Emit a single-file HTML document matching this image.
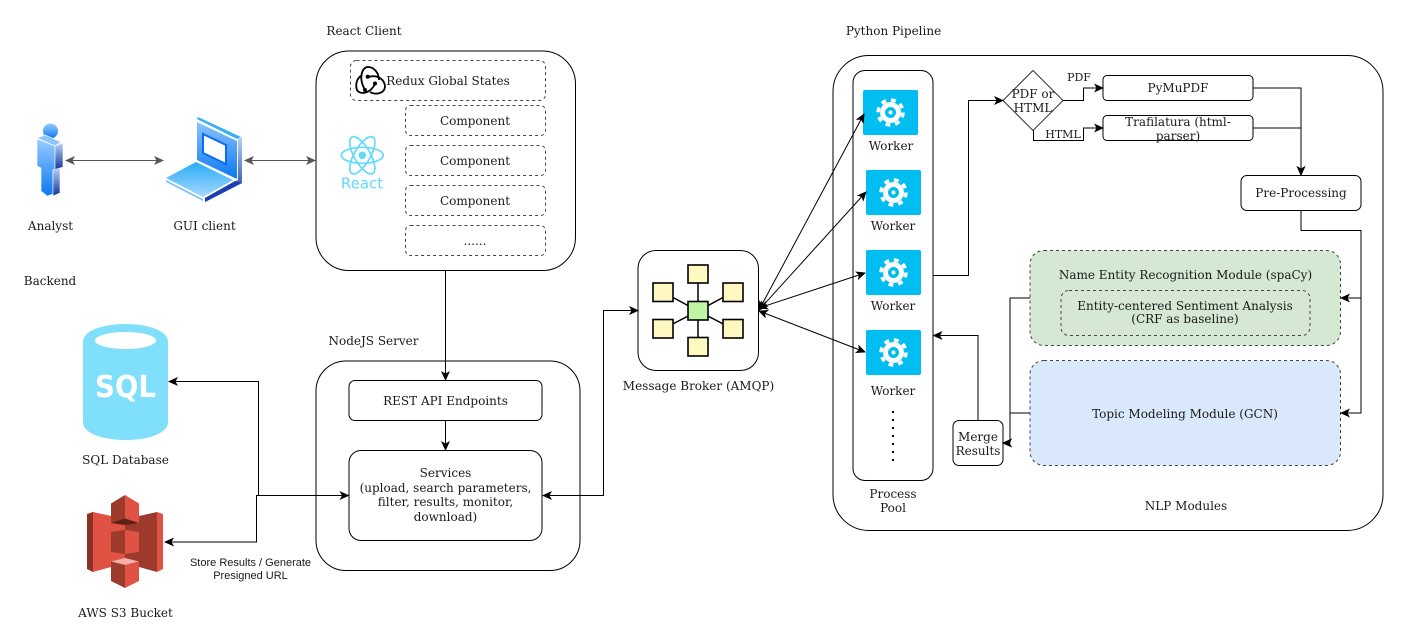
<!DOCTYPE html>
<html><head><meta charset="utf-8">
<style>
html,body{margin:0;padding:0;background:#fff;width:1404px;height:643px;overflow:hidden}
svg{display:block}
text{font-family:"DejaVu Serif",serif;font-size:12px;fill:#1a1a1a;text-anchor:middle}
.b{fill:#fff;stroke:#000;stroke-width:1}
.d{fill:#fff;stroke:#444;stroke-width:1;stroke-dasharray:3 3}
.l{fill:none;stroke:#000;stroke-width:1}
.s{stroke:#000;stroke-width:1.6;fill:#fff8c0}
</style></head><body>
<svg width="1404" height="643" viewBox="0 0 1404 643" xmlns="http://www.w3.org/2000/svg">
<defs>
<marker id="a" markerWidth="11" markerHeight="10" refX="9" refY="4.500" orient="auto-start-reverse" markerUnits="userSpaceOnUse"><path d="M0 0L10 4.500L0 9L2.500 4.500Z" fill="#000"/></marker>
<marker id="g" markerWidth="11" markerHeight="10" refX="9" refY="4.500" orient="auto-start-reverse" markerUnits="userSpaceOnUse"><path d="M0 0L10 4.500L0 9L2.500 4.500Z" fill="#555"/></marker>
<linearGradient id="bl" x1="0" y1="0" x2="0" y2="1"><stop offset="0" stop-color="#99ccff"/><stop offset="1" stop-color="#0a78f0"/></linearGradient>
<linearGradient id="dk" x1="0" y1="0" x2="0" y2="1"><stop offset="0" stop-color="#b5d4f5"/><stop offset="1" stop-color="#12319e"/></linearGradient>
<linearGradient id="key" x1="0" y1="0" x2="0" y2="1"><stop offset="0" stop-color="#29abf5"/><stop offset="1" stop-color="#a5d8ff"/></linearGradient>
<linearGradient id="scr" x1="0" y1="0" x2="0" y2="1"><stop offset="0" stop-color="#8cc4ff"/><stop offset="1" stop-color="#0a78f0"/></linearGradient>
<g id="w">
<rect x="0" y="0" width="55" height="45" rx="2" fill="#00bef2"/>
<circle cx="27.500" cy="22.500" r="10.500" fill="#fff"/>
<circle cx="27.500" cy="22.500" r="12.500" fill="none" stroke="#fff" stroke-width="3.500" stroke-dasharray="4.900 4.920"/>
<circle cx="27.500" cy="22.500" r="5.500" fill="#00bef2"/>
<circle cx="27.500" cy="22.500" r="2" fill="#fff"/>
</g>
</defs>

<!-- containers -->
<rect class="b" x="316" y="51" width="259.500" height="219.500" rx="33"/>
<rect class="b" x="316" y="361" width="264" height="209.500" rx="30"/>
<rect class="b" x="638" y="250.500" width="120.500" height="120" rx="18"/>
<rect class="b" x="833" y="55.500" width="550" height="475" rx="36"/>
<rect class="b" x="853" y="70.500" width="80" height="410" rx="12"/>

<!-- React contents -->
<rect class="d" x="350.500" y="60.500" width="195" height="40" rx="6"/>
<rect class="d" x="405.500" y="105.500" width="140" height="30" rx="5"/>
<rect class="d" x="405.500" y="145.500" width="140" height="30" rx="5"/>
<rect class="d" x="405.500" y="185.500" width="140" height="30" rx="5"/>
<rect class="d" x="405.500" y="225.500" width="140" height="30" rx="5"/>
<text x="448" y="85">Redux Global States</text>
<text x="475" y="125">Component</text>
<text x="475" y="165">Component</text>
<text x="475" y="205">Component</text>
<text x="475" y="245">......</text>
<!-- redux logo -->
<g fill="none" stroke="#000" stroke-width="1.800">
<path d="M365 90C358 78 362 67 368 67C374 67 379 73 379 80"/>
<path d="M362 75C357 78 355 84 357 90C360 95 370 94 375 84"/>
<path d="M368 77C378 74 385 80 385 87C384 94 375 95 370 92"/>
</g>
<circle cx="367.700" cy="76.700" r="2" fill="#000"/><circle cx="375" cy="83.500" r="2" fill="#000"/><circle cx="365" cy="90" r="2" fill="#000"/>
<!-- react logo -->
<g fill="none" stroke="#61dafb" stroke-width="1.700">
<ellipse cx="362.300" cy="155.300" rx="21" ry="8"/>
<ellipse cx="362.300" cy="155.300" rx="21" ry="8" transform="rotate(60 362.300 155.300)"/>
<ellipse cx="362.300" cy="155.300" rx="21" ry="8" transform="rotate(120 362.300 155.300)"/>
</g>
<circle cx="362.300" cy="155.300" r="3.800" fill="#61dafb"/>
<text x="362" y="188.500" style="font-family:'DejaVu Sans',sans-serif;font-size:15px;fill:#61dafb">React</text>

<!-- Node contents -->
<rect class="b" x="349" y="380.500" width="193" height="40" rx="6"/>
<rect class="b" x="349" y="450.500" width="193" height="90" rx="12"/>
<text x="445.500" y="405">REST API Endpoints</text>
<text x="445.500" y="477">Services</text>
<text x="445.500" y="492">(upload, search parameters,</text>
<text x="445.500" y="506">filter, results, monitor,</text>
<text x="445.500" y="521">download)</text>

<!-- Broker icon -->
<g stroke="#000" stroke-width="1.500">
<path d="M698 275V345M663 292L698 311L733 292M663 329L698 311L733 329" fill="none"/>
<rect class="s" x="688" y="265" width="20" height="18"/>
<rect class="s" x="653" y="283" width="20" height="18.500"/>
<rect class="s" x="723" y="283" width="20" height="18.500"/>
<rect class="s" x="653" y="319.500" width="20" height="18.500"/>
<rect class="s" x="723" y="319.500" width="20" height="18.500"/>
<rect class="s" x="688" y="337.500" width="20" height="18.500"/>
<rect class="s" x="688" y="301.500" width="20" height="18.500" style="fill:#c0f5a6"/>
</g>

<!-- workers -->
<use href="#w" x="863" y="90"/>
<use href="#w" x="866" y="170"/>
<use href="#w" x="866" y="250"/>
<use href="#w" x="866" y="330"/>
<text x="891" y="150">Worker</text>
<text x="893" y="230">Worker</text>
<text x="893" y="310">Worker</text>
<text x="893" y="395">Worker</text>
<line x1="893" y1="411" x2="893" y2="461" stroke="#000" stroke-width="2" stroke-dasharray="2 6"/>
<text x="893" y="498">Process</text>
<text x="893" y="512">Pool</text>

<!-- pipeline shapes -->
<path d="M1033 70.500L1063 100.500L1033 130.500L1003 100.500Z" fill="#fff" stroke="#333"/>
<text x="1033" y="98">PDF or</text>
<text x="1033" y="112">HTML</text>
<rect class="b" x="1103" y="75.500" width="150" height="25" rx="4"/>
<rect class="b" x="1103" y="115.500" width="150" height="25" rx="4"/>
<rect class="b" x="1241" y="175.500" width="120" height="35" rx="6"/>
<text x="1178" y="92">PyMuPDF</text>
<text x="1178" y="126">Trafilatura (html-</text>
<text x="1178" y="140">parser)</text>
<text x="1301" y="197">Pre-Processing</text>
<text x="1079" y="81" style="font-size:11px">PDF</text>
<text x="1063" y="138" style="font-size:11px">HTML</text>

<rect x="1030" y="250.500" width="310.500" height="95" rx="14" fill="#d5e8d4" stroke="#444" stroke-dasharray="3 3"/>
<rect x="1061" y="290.500" width="249" height="45" rx="8" fill="#d5e8d4" stroke="#444" stroke-dasharray="3 3"/>
<rect x="1030" y="360.500" width="310.500" height="105" rx="14" fill="#dae8fc" stroke="#444" stroke-dasharray="3 3"/>
<text x="1185.500" y="279">Name Entity Recognition Module (spaCy)</text>
<text x="1185" y="310">Entity-centered Sentiment Analysis</text>
<text x="1185" y="323">(CRF as baseline)</text>
<text x="1185" y="418">Topic Modeling Module (GCN)</text>
<rect class="b" x="953" y="420.500" width="50" height="45" rx="6"/>
<text x="978" y="441">Merge</text>
<text x="978" y="455">Results</text>
<text x="1186" y="510">NLP Modules</text>

<!-- section labels -->
<text x="364" y="35">React Client</text>
<text x="373.500" y="345">NodeJS Server</text>
<text x="893.500" y="35">Python Pipeline</text>
<text x="50" y="285">Backend</text>
<text x="50.500" y="230">Analyst</text>
<text x="204.500" y="230">GUI client</text>
<text x="125.500" y="464">SQL Database</text>
<text x="125.500" y="617">AWS S3 Bucket</text>
<text x="698.500" y="390">Message Broker (AMQP)</text>
<text x="250.500" y="566" style="font-family:'Liberation Sans',sans-serif;font-size:11px">Store Results / Generate</text>
<text x="250.500" y="579" style="font-family:'Liberation Sans',sans-serif;font-size:11px">Presigned URL</text>

<!-- connectors -->
<path d="M66 160.500H163" fill="none" stroke="#555" marker-start="url(#g)" marker-end="url(#g)"/>
<path d="M245 160.500H315" fill="none" stroke="#555" marker-start="url(#g)" marker-end="url(#g)"/>
<path class="l" d="M445.500 270.500V380" marker-end="url(#a)"/>
<path class="l" d="M445.500 420.500V450" marker-end="url(#a)"/>
<path class="l" d="M258.500 495.500V381.500H169" marker-end="url(#a)"/>
<path class="l" d="M348.500 495.500H256.500V542H165" marker-start="url(#a)" marker-end="url(#a)"/>
<path class="l" d="M543 495.500H603.500V310.500H638" marker-start="url(#a)" marker-end="url(#a)"/>
<path class="l" d="M759 310L864 114" marker-start="url(#a)" marker-end="url(#a)"/>
<path class="l" d="M759 310L866 192" marker-start="url(#a)" marker-end="url(#a)"/>
<path class="l" d="M759 308L865 273" marker-start="url(#a)" marker-end="url(#a)"/>
<path class="l" d="M759 311L865 352" marker-start="url(#a)" marker-end="url(#a)"/>
<path class="l" d="M933 275.500H968.500V100.500H1003" marker-end="url(#a)"/>
<path class="l" d="M1063 100.500H1083.500V88H1103" marker-end="url(#a)"/>
<path class="l" d="M1033.500 130.500V140.500H1083.500V128H1103" marker-end="url(#a)"/>
<path class="l" d="M1253 88H1301V175" marker-end="url(#a)"/>
<path class="l" d="M1253 128H1301V175" marker-end="url(#a)"/>
<path class="l" d="M1301 210.500V230.500H1361V298H1341" marker-end="url(#a)"/>
<path class="l" d="M1361 298V413H1341" marker-end="url(#a)"/>
<path class="l" d="M1030 298H1010V443H1003" marker-end="url(#a)"/>
<path class="l" d="M1030 413H1010V443H1003" marker-end="url(#a)"/>
<path class="l" d="M978 420.500V335.500H933.500" marker-end="url(#a)"/>

<!-- person -->
<circle cx="50.500" cy="131" r="7.500" fill="url(#bl)"/>
<path d="M37 138L45 135L61 142L55 146Z" fill="#8cc8ff" stroke="#fff" stroke-width=".6"/>
<path d="M37 139L55 146V170H53V194L47 196L41 191V168L37 166Z" fill="url(#bl)" stroke="#fff" stroke-width=".6"/>
<path d="M55 146L63 143V167L55 170Z" fill="url(#dk)" stroke="#fff" stroke-width=".6"/>
<path d="M53 170L60 168V193L53 196Z" fill="url(#dk)" stroke="#fff" stroke-width=".6"/>

<!-- laptop -->
<path d="M198 117L241 137L237 139L197 119Z" fill="#36b0f5"/>
<path d="M197 122L237 141V179L197 160Z" fill="url(#scr)"/>
<path d="M238 139L242 137V183L205 202V198L238 180Z" fill="url(#dk)"/>
<path d="M203 134L226 145V164L203 153Z" fill="#fff" stroke="#0a6cf0" stroke-width="2"/>
<path d="M166 178L196 162L233 180L203 197Z" fill="url(#key)"/>
<path d="M166 180L203 199V201L166 182Z" fill="#7cc4ff"/>
<path d="M205 198L235 181L242 183L205 202Z" fill="#1b3fb0"/>

<!-- SQL -->
<path d="M83 342C83 318 168 318 168 342V422C168 446 83 446 83 422Z" fill="#80dffa"/>
<ellipse cx="125.500" cy="340.500" rx="30.500" ry="8.500" fill="#fff"/>
<text x="125.500" y="397" textLength="61" lengthAdjust="spacingAndGlyphs" style="font-family:'DejaVu Sans',sans-serif;font-weight:bold;font-size:30px;fill:#fff">SQL</text>

<!-- S3 -->
<path d="M87 514L93 512V572L87 569Z" fill="#8c3123"/>
<path d="M93 512L111 516V567L93 572Z" fill="#e05243"/>
<path d="M111 516H125V567H111Z" fill="#e05243"/>
<path d="M125 516H139V567H125Z" fill="#9c3a2c"/>
<path d="M139 516L157 512V572L139 567Z" fill="#9c3a2c"/>
<path d="M157 512L163 514V569L157 572Z" fill="#e05243"/>
<path d="M125 495L111 503.500V523L125 525Z" fill="#9c3a2c"/>
<path d="M125 495L139 503.500V523L125 525Z" fill="#e05243"/>
<path d="M111 523L125 518.500L139 523L125 525Z" fill="#5e1f18"/>
<path d="M111 532L125 530V554L111 552Z" fill="#9c3a2c"/>
<path d="M125 530L139 532V552L125 554Z" fill="#e05243"/>
<path d="M111 561.500L125 558L139 561.500L125 565Z" fill="#f2b0a9"/>
<path d="M111 561.500L125 565V588L111 581Z" fill="#9c3a2c"/>
<path d="M139 561.500L125 565V588L139 581Z" fill="#e05243"/>
</svg>
</body></html>
